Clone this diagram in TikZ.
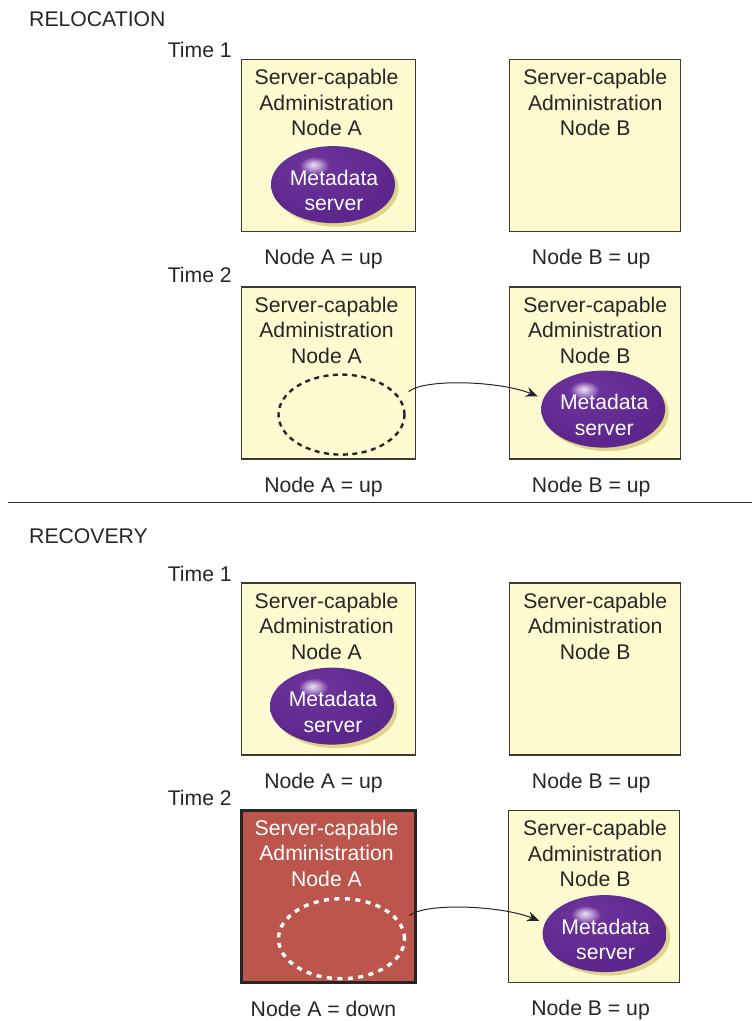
\documentclass[tikz,border=0pt]{standalone}
\usepackage{fontspec}
\setmainfont{Liberation Sans}
\usetikzlibrary{positioning,shapes.geometric,shadows,arrows.meta}
\definecolor{boxyellow}{HTML}{FFFBD0}
\definecolor{boxline}{HTML}{3A3A34}
\definecolor{downred}{HTML}{BC554B}
\definecolor{ballshadow}{HTML}{E0D48C}
\pgfdeclareradialshading{metaball}{\pgfpoint{-8bp}{13bp}}{%
  rgb(0bp)=(.92,.88,.96);
  rgb(2.5bp)=(.74,.62,.84);
  rgb(6bp)=(.42,.20,.60);
  rgb(30bp)=(.36,.15,.55);
  rgb(50bp)=(.38,.17,.57);
  rgb(64bp)=(.52,.32,.68);
  rgb(100bp)=(.52,.32,.68)}
\tikzset{
  txt/.style={font=\fontsize{21.2}{25.5}\selectfont,inner sep=0pt,align=center,text=black!85},
  adminbox/.style={draw=boxline,line width=1.2pt,fill=boxyellow,minimum width=174pt,minimum height=172pt,inner sep=0pt},
  nodeb/.style={adminbox,minimum width=171pt},
  downbox/.style={adminbox,draw=black!85,line width=3pt,fill=downred},
  boxtext/.style={txt,below=10.5pt of #1.north},
  statustext/.style={txt,below=17pt of #1.south},
  timetext/.style={txt,anchor=east},
  mdball/.style={ellipse,minimum width=124pt,minimum height=77pt,inner sep=0pt,anchor=north,shading=metaball,
    drop shadow={shadow xshift=3.5pt,shadow yshift=-3.5pt,fill=ballshadow,opacity=1}},
  mdtext/.style={txt,text=white,yshift=-6pt,xshift=1pt},
  ghost/.style={ellipse,draw=black!85,line width=2.4pt,dash pattern=on 5pt off 4.5pt,minimum width=126pt,minimum height=80pt,inner sep=0pt,anchor=north},
  moveto/.style={-{Stealth[length=12pt,width=10pt]},line width=1pt,black!85,shorten >=6pt}
}
\begin{document}
\begin{tikzpicture}[x=1pt,y=1pt]
\useasboundingbox (0,0) rectangle (752,-1021);
% relocation
\node [txt,anchor=west] (relocation) at (29,-19) {RELOCATION};
\node [timetext] (t1) at (232,-50) {Time 1};
\node [adminbox] (a1) at (328.5,-145.5) {};
\node [nodeb,right=93pt of a1] (b1) {};
\node [boxtext=a1,xshift=-2pt] (a1text) {Server-capable\\Administration\\Node A};
\node [boxtext=b1] (b1text) {Server-capable\\Administration\\Node B};
\node [mdball,below=87pt of a1.north,xshift=4.5pt,label={[mdtext]center:Metadata\\server}] (m1) {};
\node [statustext=a1,xshift=-5pt] (a1up) {Node A = up};
\node [statustext=b1,xshift=-4pt] (b1up) {Node B = up};

\node [timetext] (t2) at (232,-275) {Time 2};
\node [adminbox] (a2) at (328.5,-373) {};
\node [nodeb,right=93pt of a2] (b2) {};
\node [boxtext=a2,xshift=-2pt] (a2text) {Server-capable\\Administration\\Node A};
\node [boxtext=b2] (b2text) {Server-capable\\Administration\\Node B};
\node [ghost,below=87pt of a2.north,xshift=13pt] (g2) {};
\node [mdball,below=84pt of b2.north,xshift=8pt,label={[mdtext]center:Metadata\\server}] (m2) {};
\node [statustext=a2,xshift=-5pt] (a2up) {Node A = up};
\node [statustext=b2,xshift=-4pt] (b2up) {Node B = up};
\coordinate [above right=23pt and 3pt of g2.east] (s2);
\draw [moveto] (s2) .. controls +(15,13) and +(-45,18) .. (m2.170);

\coordinate (ruleleft) at (8,-502);
\coordinate (ruleright) at (752,-502);
\draw [line width=1pt,black!80] (ruleleft) -- (ruleright);

% recovery
\node [txt,anchor=west] (recovery) at (29,-536) {RECOVERY};
\node [timetext] (t3) at (232,-574) {Time 1};
\node [adminbox] (a3) at (328.5,-669) {};
\node [nodeb,right=93pt of a3] (b3) {};
\node [boxtext=a3,xshift=-2pt] (a3text) {Server-capable\\Administration\\Node A};
\node [boxtext=b3] (b3text) {Server-capable\\Administration\\Node B};
\node [mdball,below=85pt of a3.north,xshift=3.5pt,label={[mdtext]center:Metadata\\server}] (m3) {};
\node [statustext=a3,xshift=-5pt] (a3up) {Node A = up};
\node [statustext=b3,xshift=-4pt] (b3up) {Node B = up};

\node [timetext] (t4) at (232,-798) {Time 2};
\node [downbox] (a4) at (328.5,-896.5) {};
\node [nodeb,right=91pt of a4] (b4) {};
\node [boxtext=a4,text=white,xshift=-2pt] (a4text) {Server-capable\\Administration\\Node A};
\node [boxtext=b4,xshift=1pt] (b4text) {Server-capable\\Administration\\Node B};
\node [ghost,draw=white,line width=3.4pt,dash pattern=on 5pt off 5.5pt,below=88pt of a4.north,xshift=13pt] (g4) {};
\node [mdball,below=85pt of b4.north,xshift=10.5pt,label={[mdtext]center:Metadata\\server}] (m4) {};
\node [statustext=a4,xshift=-5pt] (a4down) {Node A = down};
\node [statustext=b4,xshift=-3.5pt] (b4up) {Node B = up};
\coordinate [above right=23pt and 3pt of g4.east] (s4);
\draw [moveto] (s4) .. controls +(15,13) and +(-45,18) .. (m4.170);
\end{tikzpicture}
\end{document}
